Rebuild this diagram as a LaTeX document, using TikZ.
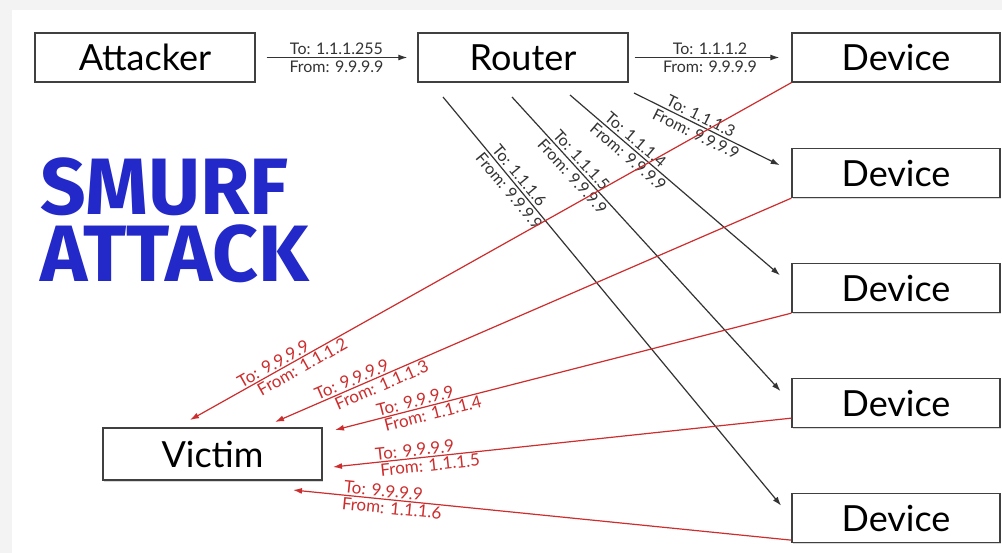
\documentclass[tikz,border=0pt]{standalone}
\usepackage{fontspec}
\setmainfont{Lato}
\newfontfamily\smurffont{Fira Sans}
\usetikzlibrary{arrows.meta,shadows}
\definecolor{smurfblue}{RGB}{35,40,200}
\definecolor{replyred}{RGB}{205,45,45}
\definecolor{framegray}{RGB}{243,243,243}
\begin{document}
\begin{tikzpicture}[x=1pt,y=-1pt,
    box/.style={draw=black!75,fill=white,line width=1.3pt,minimum width=210pt,
      minimum height=49pt,inner sep=0pt,font=\fontsize{36}{36}\selectfont,
      drop shadow={shadow xshift=1.2pt,shadow yshift=-1.5pt,opacity=0.3}},
    pkt/.style={-{Latex[length=9pt,width=6pt]},line width=1.2pt,black!80},
    reply/.style={{Latex[length=9pt,width=6pt]}-,line width=1.2pt,replyred},
    lbl/.style={font=\fontsize{16}{16}\selectfont,inner sep=2.5pt,sloped,black!80},
    rlbl/.style={font=\fontsize{17}{17}\selectfont,inner sep=1.5pt,sloped,replyred}]
      \useasboundingbox (0,0) rectangle (1002,553);
      \fill[framegray] (0,0) rectangle (1002,553);
      \fill[white] (12,10) rectangle (1002,553);
      \path
        (145,57.5) node[box,minimum width=220pt] (attacker){Attacker}
        (523,57.5) node[box] (router){Router}
        (896,57.5) node[box,minimum width=208pt] (d1){Device}
        (896,173) node[box,minimum width=208pt] (d2){Device}
        (896,288) node[box,minimum width=208pt] (d3){Device}
        (896,403) node[box,minimum width=208pt] (d4){Device}
        (896,518) node[box,minimum width=208pt] (d5){Device}
        (212.5,454) node[box,minimum width=219pt,minimum height=52pt] (victim){Victim};
      \node[anchor=north west,inner sep=0pt,align=left,text=smurfblue,
        font=\smurffont\bfseries\fontsize{80}{67}\selectfont] (title) at (40,158) {SMURF\\ATTACK};
      % broadcast
      \coordinate (r3) at (634,93);
      \coordinate (r4) at (570,95);
      \coordinate (r5) at (512,97);
      \coordinate (r6) at (443,97);
      \begin{scope}[pkt]
        \draw[shorten <=11pt,shorten >=10pt] (attacker) -- node[lbl,above]{To: 1.1.1.255} node[lbl,below]{From: 9.9.9.9} (router);
        \draw[shorten <=6pt,shorten >=12pt] (router) -- node[lbl,above]{To: 1.1.1.2} node[lbl,below]{From: 9.9.9.9} (d1);
        \draw[shorten >=13pt] (r3) -- node[lbl,above,pos=0.4]{To: 1.1.1.3} node[lbl,below,pos=0.42]{From: 9.9.9.9} ([yshift=2pt]d2.west);
        \draw[shorten >=15pt] (r4) -- node[lbl,above,pos=0.27]{To: 1.1.1.4} node[lbl,below,pos=0.29]{From: 9.9.9.9} ([yshift=3pt]d3.west);
        \draw[shorten >=16pt] (r5) -- node[lbl,above,pos=0.225]{To: 1.1.1.5} node[lbl,below,pos=0.24]{From: 9.9.9.9} (d4.west);
        \draw[shorten >=16pt] (r6) -- node[lbl,above,pos=0.2]{To: 1.1.1.6} node[lbl,below,pos=0.21]{From: 9.9.9.9} (d5.west);
      \end{scope}
      % replies
      \coordinate (v2) at (190,420);
      \coordinate (v3) at (275,422);
      \coordinate (v4) at (335,430);
      \coordinate (v5) at (333,467);
      \coordinate (v6) at (293,490);
      \begin{scope}[reply]
        \draw (v2) -- node[rlbl,above,pos=0.145]{To: 9.9.9.9} node[rlbl,below,pos=0.18]{From: 1.1.1.2} (d1.south west);
        \draw (v3) -- node[rlbl,above,pos=0.155]{To: 9.9.9.9} node[rlbl,below,pos=0.2]{From: 1.1.1.3} (d2.south west);
        \draw (v4) -- node[rlbl,above,pos=0.18]{To: 9.9.9.9} node[rlbl,below,pos=0.21]{From: 1.1.1.4} (d3.south west);
        \draw (v5) -- node[rlbl,above,pos=0.18]{To: 9.9.9.9} node[rlbl,below,pos=0.21]{From: 1.1.1.5} ([yshift=10pt]d4.south west);
        \draw (v6) -- node[rlbl,above,pos=0.18]{To: 9.9.9.9} node[rlbl,below,pos=0.2]{From: 1.1.1.6} ([yshift=3pt]d5.south west);
      \end{scope}
    \end{tikzpicture}
\end{document}
